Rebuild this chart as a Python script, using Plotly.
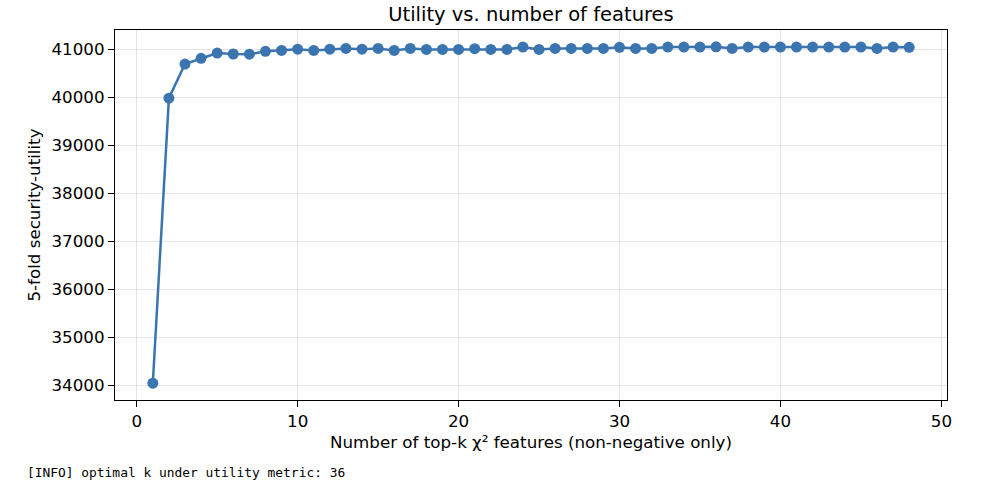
import plotly.graph_objects as go

k_values = list(range(1, 49))
utility = [34040, 39980, 40690, 40810, 40920, 40900, 40895, 40955, 40975, 41000,
           40975, 41000, 41015, 41000, 41015, 40975, 41015, 40995, 40995, 40995,
           41010, 40995, 40995, 41045, 40995, 41015, 41015, 41015, 41015, 41040,
           41015, 41015, 41045, 41045, 41045, 41050, 41015, 41045, 41045, 41045,
           41045, 41045, 41045, 41045, 41045, 41015, 41045, 41040]
best_k = 36

color = "#3a75b0"
font_main = "DejaVu Sans"

fig = go.Figure()
fig.add_trace(go.Scatter(
    x=k_values, y=utility, mode="lines+markers",
    line=dict(color=color, width=2.5),
    marker=dict(color=color, size=11),
    showlegend=False,
))

axis_common = dict(
    showline=True, linecolor="black", linewidth=1.2, mirror=True,
    ticks="outside", ticklen=6, tickcolor="black", tickwidth=1.2,
    showgrid=True, gridcolor="rgba(0,0,0,0.1)", gridwidth=1.2,
    zeroline=False, automargin=False,
    tickfont=dict(family=font_main, size=16.7, color="black"),
)

fig.update_xaxes(range=[-1.35, 50.35], dtick=10, tickformat="d",
                 title=dict(text="Number of top-k χ² features (non-negative only)",
                            font=dict(family=font_main, size=16.7, color="black"),
                            standoff=6),
                 **axis_common)
fig.update_yaxes(range=[33690, 41400], dtick=1000, tickformat="d",
                 title=dict(text="5-fold security-utility",
                            font=dict(family=font_main, size=16.7, color="black"),
                            standoff=6),
                 **axis_common)

fig.update_layout(
    width=1000, height=484,
    margin=dict(l=115, r=53, t=30, b=84),
    plot_bgcolor="white", paper_bgcolor="white",
    title=dict(text="Utility vs. number of features", x=0.5, xanchor="center",
               xref="paper", yref="paper", y=1, yanchor="bottom",
               pad=dict(b=9),
               font=dict(family=font_main, size=19.5, color="black")),
    annotations=[dict(
        text=f"[INFO] optimal k under utility metric: {best_k}",
        xref="paper", yref="paper", x=-0.108, y=-0.197,
        xanchor="left", yanchor="middle", showarrow=False,
        font=dict(family="DejaVu Sans Mono", size=12.9, color="black"),
    )],
)

# drop the browser's default 8px body margin so the figure fills the window
fig.write_html("out.html", config={"displayModeBar": False},
               post_script="document.body.style.margin='0';")
